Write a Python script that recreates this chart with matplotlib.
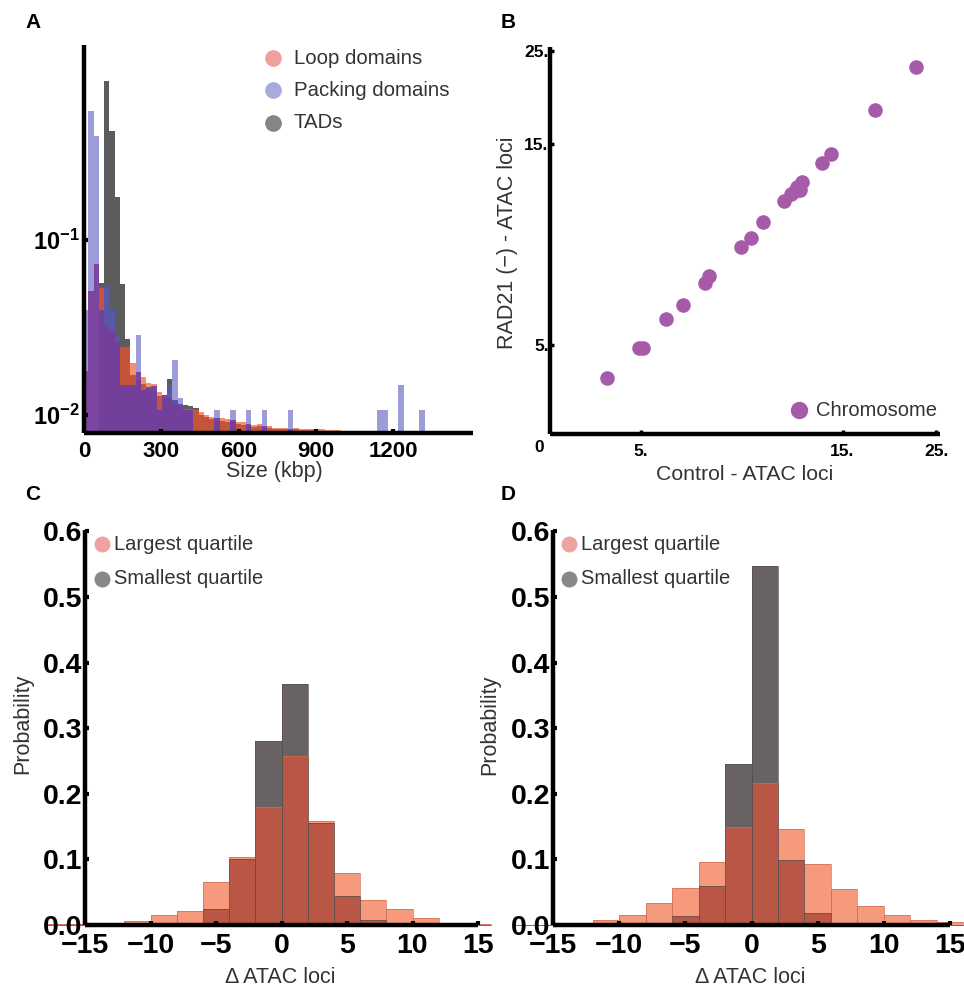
import matplotlib
matplotlib.use("Agg")
import matplotlib.pyplot as plt
import numpy as np

plt.rcParams['font.family'] = ['Liberation Sans', 'DejaVu Sans']
plt.rcParams['mathtext.fontset'] = 'custom'
plt.rcParams['mathtext.rm'] = 'Liberation Sans'
plt.rcParams['mathtext.bf'] = 'Liberation Sans:bold'

# ---- panel A: domain size histograms (probability per ~20 kbp bin) ----
size_bin_width = 20.4
size_first_edge = -3.5
loop_domains = [0.018, 0.051, 0.0726, 0.053, 0.0327, 0.0306, 0.0263, 0.0246, 0.0244, 0.020,
                0.0177, 0.0165, 0.0153, 0.0151, 0.0136, 0.0130, 0.0125, 0.0118, 0.0113, 0.0109,
                0.0109, 0.0107, 0.0104, 0.0101, 0.0098, 0.0096, 0.0096, 0.0095, 0.0094, 0.0092,
                0.0091, 0.0089, 0.0088, 0.0089, 0.0087, 0.0087, 0.0085, 0.0085, 0.0085, 0.0084,
                0.0085, 0.0084, 0.0084, 0.0083, 0.0083, 0.0083, 0.0082, 0.0082, 0.0082, 0.0081,
                0.0081, 0.0081, 0.0081, 0.0080, 0.0080, 0.0080, 0, 0, 0, 0,
                0, 0, 0, 0, 0, 0, 0, 0, 0, 0,
                0, 0, 0, 0.0081]
packing_domains = [0.040, 0.546, 0.393, 0.040, 0.0546, 0.040, 0.0283, 0.0148, 0.0148, 0.0148,
                   0.0286, 0.0140, 0.0145, 0.0146, 0.0107, 0.0130, 0.0148, 0.0206, 0.0125, 0.0107,
                   0.0107, 0, 0, 0, 0, 0.0107, 0, 0, 0.0107, 0,
                   0, 0.0107, 0, 0, 0.0107, 0, 0, 0, 0, 0.0107,
                   0, 0, 0, 0, 0, 0, 0, 0, 0, 0,
                   0, 0, 0, 0, 0, 0, 0.0107, 0.0107, 0, 0,
                   0.0148, 0, 0, 0, 0.0107, 0, 0, 0, 0, 0,
                   0, 0, 0, 0]
tads = [0, 0, 0, 0.057, 0.813, 0.421, 0.177, 0.0558, 0.0274, 0.0170,
        0.0158, 0.0150, 0.0142, 0.0138, 0.0128, 0.0124, 0.0162, 0.0123, 0.0116, 0.0115,
        0.0113, 0.0110, 0.0101, 0.0098, 0.0095, 0.0093, 0.0093, 0.0092, 0.0091, 0.0089,
        0.0088, 0.0087, 0.0086, 0.0087, 0.0085, 0.0085, 0.0084, 0.0083, 0.0083, 0.0082,
        0.0083, 0.0082, 0.0082, 0.0082, 0.0081, 0.0081, 0.0081, 0.0080, 0.0080, 0.0080,
        0, 0, 0, 0, 0, 0, 0, 0, 0, 0,
        0, 0, 0, 0, 0, 0, 0, 0, 0, 0,
        0, 0, 0, 0]
size_ticks = [0, 300, 600, 900, 1200]

# ---- panel B: ATAC loci per chromosome ----
control_atac = [4.16, 4.96, 5.06, 5.74, 6.29, 7.08, 7.25, 8.61, 9.11, 9.75,
                10.9, 11.3, 11.6, 11.7, 11.9, 12.0, 13.4, 14.1, 17.9, 22.4]
rad21_atac = [4.18, 4.94, 4.94, 5.76, 6.22, 7.03, 7.32, 8.53, 8.96, 9.78,
              11.0, 11.4, 11.6, 11.9, 11.7, 12.2, 13.5, 14.2, 18.1, 22.9]
log_ticks = [5, 15, 25]
log_tick_labels = ['5.', '15.', '25.']

# ---- panels C, D: delta ATAC loci histograms ----
delta_edges = list(range(-18, 17, 2))
c_largest = [0.0015, 0.0015, 0.001, 0.006, 0.015, 0.021, 0.066, 0.103, 0.180, 0.257,
             0.159, 0.080, 0.038, 0.024, 0.011, 0.003, 0.0015]
c_smallest = [0, 0, 0, 0, 0.001, 0.003, 0.025, 0.100, 0.281, 0.368,
              0.155, 0.044, 0.008, 0.002, 0, 0, 0]
d_largest = [0, 0, 0.003, 0.008, 0.016, 0.034, 0.057, 0.096, 0.149, 0.216,
             0.146, 0.093, 0.055, 0.029, 0.016, 0.007, 0.004]
d_smallest = [0, 0, 0, 0, 0, 0, 0.013, 0.059, 0.245, 0.547,
              0.099, 0.018, 0.001, 0, 0, 0, 0]
delta_ticks = [-15, -10, -5, 0, 5, 10, 15]
prob_ticks = [0, 0.1, 0.2, 0.3, 0.4, 0.5, 0.6]

W, H = 964, 984


def box(l, t, r, b):
    return [l / W, 1 - b / H, (r - l) / W, (b - t) / H]


def overlap_bars(ax, lefts, width, series, colors, base, clip=True):
    # draw each bin as stacked segments, coloured by which series overlap there
    for i, left in enumerate(lefts):
        vals = sorted([(s[i], name) for name, s in series.items()])
        prev = base
        for j, (v, name) in enumerate(vals):
            if v <= prev:
                continue
            active = frozenset(n for _, n in vals[j:])
            ax.bar(left, v - prev, bottom=prev, width=width, align='edge',
                   color=colors[active], linewidth=0, clip_on=clip)
            prev = v


def style_axes(ax):
    for s in ['top', 'right']:
        ax.spines[s].set_visible(False)
    for s in ['left', 'bottom']:
        ax.spines[s].set_linewidth(3.2)
        ax.spines[s].set_capstyle('butt')


fig = plt.figure(figsize=(W / 100, H / 100), dpi=100)

# ---------------- A ----------------
axA = fig.add_axes(box(84, 45, 473, 433))
lefts = size_first_edge + size_bin_width * np.arange(len(loop_domains))
colA = {
    frozenset(['R']): '#F3906F',
    frozenset(['B']): '#9C9CD8',
    frozenset(['G']): '#5C5C5C',
    frozenset(['R', 'B']): '#7C45A0',
    frozenset(['R', 'G']): '#C4553A',
    frozenset(['B', 'G']): '#5858A8',
    frozenset(['R', 'B', 'G']): '#72409A',
}
overlap_bars(axA, lefts, size_bin_width,
             {'R': loop_domains, 'B': packing_domains, 'G': tads}, colA, 1e-4)
axA.set_yscale('log')
axA.set_ylim(0.00792, 1.30)
axA.set_xlim(0, 1510)
style_axes(axA)
axA.set_xticks(size_ticks)
axA.set_xticklabels([str(t) for t in size_ticks], fontweight='bold')
axA.set_yticks([0.1, 0.01])
axA.set_yticklabels([r'$\mathbf{10^{-1}}$', r'$\mathbf{10^{-2}}$'])
axA.yaxis.set_minor_locator(matplotlib.ticker.NullLocator())
axA.tick_params(axis='both', direction='in', length=3, width=3, labelsize=16)
axA.tick_params(axis='y', labelsize=17)
axA.tick_params(axis='x', pad=6)
axA.tick_params(axis='y', pad=3)

# ---------------- B ----------------
axB = fig.add_axes(box(550, 47, 940, 434))
axB.scatter(control_atac, rad21_atac, s=110, color='#A65AA8', linewidths=0, zorder=3)
axB.set_xscale('log')
axB.set_yscale('log')
axB.set_xlim(3.05, 25.5)
axB.set_ylim(3.08, 25.5)
style_axes(axB)
axB.xaxis.set_minor_locator(matplotlib.ticker.NullLocator())
axB.yaxis.set_minor_locator(matplotlib.ticker.NullLocator())
axB.set_xticks(log_ticks)
axB.set_xticklabels(log_tick_labels, fontweight='bold')
axB.set_yticks(log_ticks)
axB.set_yticklabels(log_tick_labels, fontweight='bold')
axB.tick_params(axis='both', direction='in', length=3, width=2.5, labelsize=12.5)
axB.tick_params(axis='x', pad=7)
axB.tick_params(axis='y', pad=1)

# ---------------- C, D ----------------
colCD = {
    frozenset(['L']): '#F59A7C',
    frozenset(['S']): '#686262',
    frozenset(['L', 'S']): '#BA5645',
}
dleft = np.array(delta_edges[:-1])
for ax_box, largest, smallest in [((85, 530, 478, 925), c_largest, c_smallest),
                                  ((553, 530, 950, 925), d_largest, d_smallest)]:
    ax = fig.add_axes(box(*ax_box))
    overlap_bars(ax, dleft, 2, {'L': largest, 'S': smallest}, colCD, 0, clip=False)
    # thin outlines of the bars
    ax.bar(dleft, largest, width=2, align='edge', fill=False, edgecolor='#D06A55',
           linewidth=0.7, alpha=0.7, clip_on=False)
    ax.bar(dleft, smallest, width=2, align='edge', fill=False, edgecolor='#555050',
           linewidth=0.7, alpha=0.7, clip_on=False)
    ax.set_xlim(-15, 15)
    ax.set_ylim(0, 0.602)
    style_axes(ax)
    ax.set_xticks(delta_ticks)
    ax.set_xticklabels([str(t).replace('-', '\u2212') for t in delta_ticks], fontweight='bold')
    ax.set_yticks(prob_ticks)
    ax.set_yticklabels(['%.1f' % t for t in prob_ticks], fontweight='bold')
    ax.tick_params(axis='both', direction='in', length=3, width=3, labelsize=20.5)
    ax.tick_params(axis='x', pad=6)
    ax.tick_params(axis='y', pad=2)

# ---------------- overlay for labels and legends ----------------
ov = fig.add_axes([0, 0, 1, 1])
ov.set_xlim(0, W)
ov.set_ylim(H, 0)
ov.axis('off')

lab = dict(color='#333333', ha='center', va='center')
ov.text(274, 472, 'Size (kbp)', fontsize=15.5, **lab)
ov.text(745, 474, 'Control - ATAC loci', fontsize=15.3, **lab)
ov.text(508, 243, 'RAD21 (\u2212) - ATAC loci', fontsize=15.5, rotation=90, **lab)
ov.text(23, 724, 'Probability', fontsize=15.5, rotation=90, **lab)
ov.text(490, 725, 'Probability', fontsize=15.5, rotation=90, **lab)
ov.text(280, 967, '\u0394 ATAC loci', fontsize=15.5, color='#333333', ha='center', va='top')
ov.text(750, 967, '\u0394 ATAC loci', fontsize=15.5, color='#333333', ha='center', va='top')
ov.text(539, 447, '0', fontsize=12.5, fontweight='bold', ha='center', va='center')

for letter, (x, y) in zip('ABCD', [(33, 22), (508, 22), (33, 494), (508, 494)]):
    ov.text(x, y, letter, fontsize=15, fontweight='bold', ha='center', va='center')

legA = [('Loop domains', '#EFA09C', 58), ('Packing domains', '#A9AADC', 90), ('TADs', '#858585', 123)]
for name, c, y in legA:
    ov.plot(273, y, 'o', ms=12, color=c, mec='none')
    ov.text(294, y, name, fontsize=14.7, color='#333333', va='center', ha='left')

ov.plot(799, 410, 'o', ms=12.5, color='#A65AA8', mec='none')
ov.text(816, 410, 'Chromosome', fontsize=14.5, color='#333333', va='center', ha='left')

for x0 in [102, 569]:
    for name, c, y in [('Largest quartile', '#EFA3A0', 544), ('Smallest quartile', '#888888', 579)]:
        ov.plot(x0, y, 'o', ms=11.5, color=c, mec='none')
        ov.text(x0 + 12, y, name, fontsize=14.5, color='#333333', va='center', ha='left')

fig.savefig('out.png', dpi=100)
